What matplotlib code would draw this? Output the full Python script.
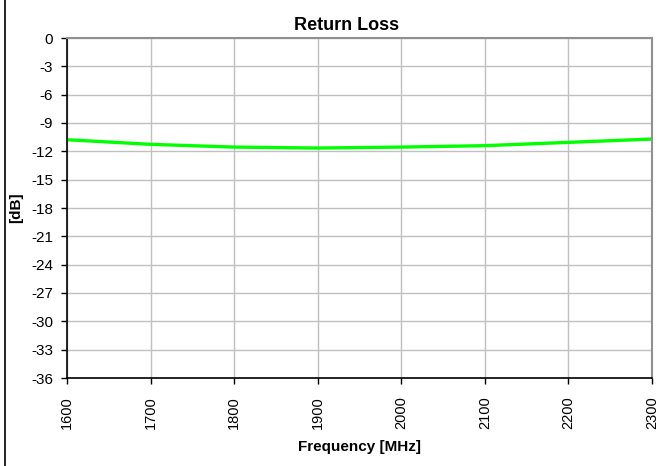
import matplotlib
matplotlib.use("Agg")
import matplotlib.pyplot as plt
from matplotlib.lines import Line2D

freq = [1600, 1700, 1800, 1900, 2000, 2100, 2200, 2300]
return_loss = [-10.77, -11.26, -11.55, -11.65, -11.55, -11.4, -11.05, -10.7]
yticks = list(range(0, -37, -3))
xticks = list(range(1600, 2301, 100))

plt.rcParams['font.family'] = ['Liberation Sans', 'DejaVu Sans']

W, H = 662, 466
fig = plt.figure(figsize=(W/100, H/100), dpi=100)
ax = fig.add_axes([67/W, 1 - 378/H, (652-67)/W, (378-38)/H])

ax.plot(freq, return_loss, color='#00ff00', lw=2.4, solid_capstyle='butt')
ax.set_xlim(1600, 2300)
ax.set_ylim(-36, 0)
ax.set_xticks(xticks)
ax.set_yticks(yticks)
ax.set_xticklabels([str(v) for v in xticks], rotation=90, fontsize=10.5)
ax.set_yticklabels([str(v) for v in yticks], fontsize=11)
ax.grid(True, color='#c0c0c0', lw=1)
ax.set_axisbelow(True)
ax.tick_params(direction='out', length=4, width=1, color='black')
ax.tick_params(axis='x', pad=9)
ax.tick_params(axis='y', pad=6)
for s in ['left', 'bottom']:
    ax.spines[s].set_color('black')
    ax.spines[s].set_linewidth(1.2)
for s in ['top', 'right']:
    ax.spines[s].set_color('#909090')
    ax.spines[s].set_linewidth(1.5)

fig.text(347/W, 1 - 26/H, 'Return Loss', fontsize=13, fontweight='bold',
         ha='center', va='center')
fig.text(359/W, 1 - 447/H, 'Frequency [MHz]', fontsize=11, fontweight='bold',
         ha='center', va='center')
fig.text(16/W, 1 - 208/H, '[dB]', fontsize=11, fontweight='bold',
         ha='center', va='center', rotation=90)

fig.add_artist(Line2D([4.5/W, 4.5/W], [0, 1], color='black', lw=1.2, transform=fig.transFigure))

fig.savefig('out.png', dpi=100)
